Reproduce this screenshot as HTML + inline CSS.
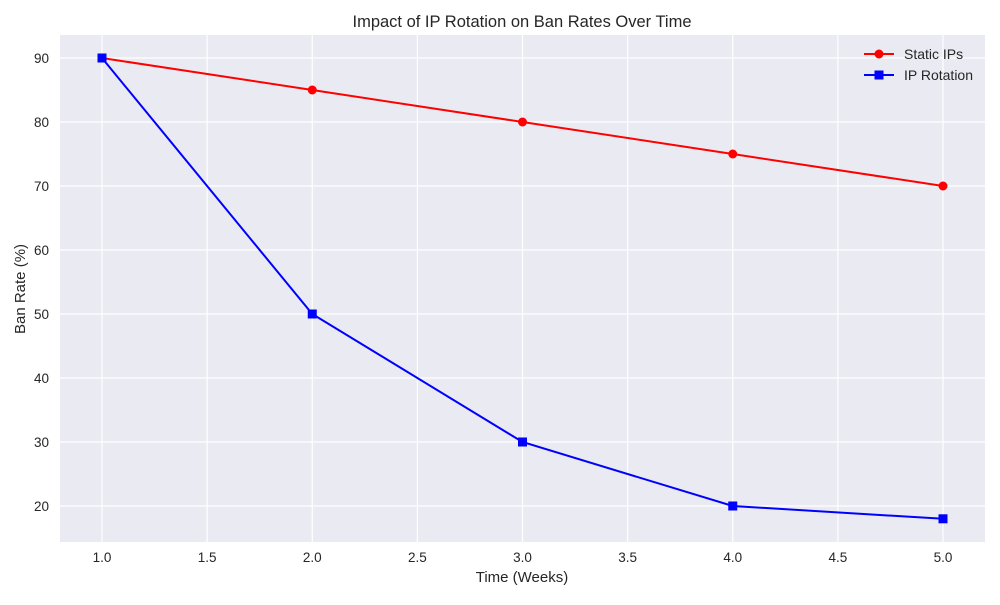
<!DOCTYPE html>
<html><head><meta charset="utf-8"><style>
body{margin:0;background:#fff;font-family:"Liberation Sans",sans-serif}
</style></head><body>
<svg id="chart" width="1000" height="600" xmlns="http://www.w3.org/2000/svg">
<rect x="0" y="0" width="1000" height="600" fill="#fff"/>
<rect x="60" y="35" width="925" height="507" fill="#eaeaf2"/>
<g id="grid"></g>
<g id="ticks"></g>
<g id="series"></g>
<text x="522" y="27" text-anchor="middle" font-size="16.5" fill="#262626">Impact of IP Rotation on Ban Rates Over Time</text>
<text x="522" y="582" text-anchor="middle" font-size="15" fill="#262626">Time (Weeks)</text>
<text x="25" y="289" text-anchor="middle" font-size="15" fill="#262626" transform="rotate(-90 25 289)">Ban Rate (%)</text>
<g>
<g>
<line x1="864" y1="54" x2="894" y2="54" stroke="red" stroke-width="2"/>
<circle cx="879" cy="54" r="4.5" fill="red"/>
<text x="904" y="59" font-size="14" fill="#262626">Static IPs</text>
</g>
<g>
<line x1="864" y1="75" x2="894" y2="75" stroke="blue" stroke-width="2"/>
<rect x="874.5" y="70.5" width="9" height="9" fill="blue"/>
<text x="904" y="80" font-size="14" fill="#262626">IP Rotation</text>
</g>
</g>
</svg>
<script>
const weeks=[1,2,3,4,5];
const staticIPs=[90,85,80,75,70];
const ipRotation=[90,50,30,20,18];
const xTicks=[1.0,1.5,2.0,2.5,3.0,3.5,4.0,4.5,5.0];
const yTicks=[20,30,40,50,60,70,80,90];
const NS="http://www.w3.org/2000/svg";
function xs(v){return 102+(v-1)*210.25;}
function ys(v){return 58+(90-v)*6.4;}
function mk(tag,attrs,parent){const e=document.createElementNS(NS,tag);for(const k in attrs)e.setAttribute(k,attrs[k]);parent.appendChild(e);return e;}
const grid=document.getElementById('grid'),ticks=document.getElementById('ticks'),series=document.getElementById('series');
xTicks.forEach(t=>{
  const l=mk('line',{x1:xs(t),x2:xs(t),y1:35,y2:542,stroke:'#fff','stroke-width':1.2},grid);
  
  
  const tx=mk('text',{x:xs(t),y:562,'text-anchor':'middle','font-size':13.5,fill:'#262626'},ticks);
  tx.textContent=t.toFixed(1);
  
  
});
yTicks.forEach(t=>{
  const l=mk('line',{x1:60,x2:985,y1:ys(t),y2:ys(t),stroke:'#fff','stroke-width':1.2},grid);
  
  
  const tx=mk('text',{x:49,y:ys(t)+5,'text-anchor':'end','font-size':13.5,fill:'#262626'},ticks);
  tx.textContent=t;
  
  
});
function draw(vals,color,shape,name){
  const pts=weeks.map((w,i)=>xs(w)+','+ys(vals[i])).join(' ');
  const pl=mk('polyline',{points:pts,fill:'none',stroke:color,'stroke-width':2},series);
  
  
  weeks.forEach((w,i)=>{
    let m;
    if(shape==='circle')m=mk('circle',{cx:xs(w),cy:ys(vals[i]),r:4.5,fill:color},series);
    else m=mk('rect',{x:xs(w)-4.5,y:ys(vals[i])-4.5,width:9,height:9,fill:color},series);
    
    
  });
}
draw(staticIPs,'red','circle','static-ips');
draw(ipRotation,'blue','square','ip-rotation');
</script>
</body></html>
